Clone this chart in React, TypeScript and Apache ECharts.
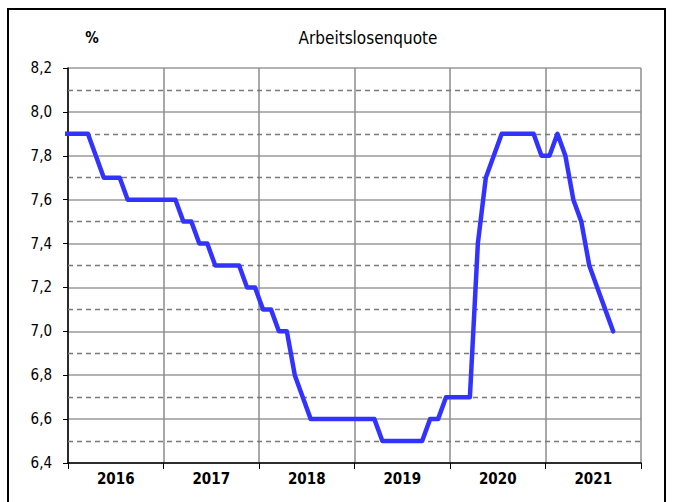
import React, { useEffect, useRef } from "react";
import * as echarts from "echarts";

// Year labels along the x axis
const years = ["2016", "2017", "2018", "2019", "2020", "2021"];

// Dashed (minor) grid levels of the y axis
const minorLevels = [6.5, 6.7, 6.9, 7.1, 7.3, 7.5, 7.7, 7.9, 8.1];

// Monthly unemployment rate (%), Dec 2015 .. Sep 2021
const rateDec2015 = [7.9];
const rate2016 = [7.9, 7.9, 7.9, 7.8, 7.7, 7.7, 7.7, 7.6, 7.6, 7.6, 7.6, 7.6];
const rate2017 = [7.6, 7.6, 7.5, 7.5, 7.4, 7.4, 7.3, 7.3, 7.3, 7.3, 7.2, 7.2];
const rate2018 = [7.1, 7.1, 7.0, 7.0, 6.8, 6.7, 6.6, 6.6, 6.6, 6.6, 6.6, 6.6];
const rate2019 = [6.6, 6.6, 6.6, 6.5, 6.5, 6.5, 6.5, 6.5, 6.5, 6.6, 6.6, 6.7];
const rate2020 = [6.7, 6.7, 6.7, 7.4, 7.7, 7.8, 7.9, 7.9, 7.9, 7.9, 7.9, 7.8];
const rate2021 = [7.8, 7.9, 7.8, 7.6, 7.5, 7.3, 7.2, 7.1, 7.0];

const rate = [
  ...rateDec2015,
  ...rate2016,
  ...rate2017,
  ...rate2018,
  ...rate2019,
  ...rate2020,
  ...rate2021,
];

const title = "Arbeitslosenquote";
const unit = "%";

const FONT = "'Liberation Sans Narrow', 'DejaVu Sans Condensed', 'Liberation Sans', Arial, sans-serif";

export default function App() {
  const ref = useRef<HTMLDivElement>(null);

  useEffect(() => {
    if (!ref.current) return;
    const chart = echarts.init(ref.current, undefined, { renderer: "svg" });
    // month index k: 0 = Dec 2015; points sit in the middle of each month
    const seriesData = rate.map((v, k) => [k - 0.5, v]);
    const option: any = {
      animation: false,
      backgroundColor: "#ffffff",
      grid: { left: 68, right: 34, top: 68, bottom: 39, containLabel: false },
      xAxis: [
        {
          type: "value",
          min: 0,
          max: 72,
          interval: 12,
          axisLine: { show: true, onZero: false, lineStyle: { color: "#000", width: 1.5 } },
          axisTick: { show: true, inside: false, length: 6, lineStyle: { color: "#000", width: 1 } },
          axisLabel: { show: false },
          splitLine: { show: true, lineStyle: { color: "#8c8c8c", width: 1.5 } },
        },
        {
          type: "category",
          data: years,
          boundaryGap: true,
          position: "bottom",
          axisLine: { show: false },
          axisTick: { show: false },
          splitLine: { show: false },
          axisLabel: {
            show: true,
            margin: 8,
            color: "#000",
            fontSize: 15,
            fontWeight: "bold",
            fontFamily: FONT,
          },
        },
      ],
      yAxis: [
        {
          type: "value",
          min: 6.4,
          max: 8.2,
          interval: 0.2,
          axisLine: { show: true, onZero: false, lineStyle: { color: "#000", width: 1.5 } },
          axisTick: { show: true, inside: false, length: 5, lineStyle: { color: "#000", width: 1 } },
          axisLabel: {
            margin: 16,
            color: "#000",
            fontSize: 15,
            fontFamily: FONT,
            formatter: (v: number) => v.toFixed(1).replace(".", ","),
          },
          splitLine: { show: true, lineStyle: { color: "#9a9a9a", width: 1.5 } },
        },
      ],
      series: [
        {
          type: "line",
          name: "minor-grid",
          xAxisIndex: 0,
          yAxisIndex: 0,
          data: [],
          symbol: "none",
          silent: true,
          z: 1,
          markLine: {
            silent: true,
            symbol: "none",
            label: { show: false },
            lineStyle: { color: "#7a7a7a", width: 1.3, type: [5, 4] },
            data: minorLevels.map((v) => ({ yAxis: v })),
          },
        },
        {
          type: "line",
          xAxisIndex: 0,
          yAxisIndex: 0,
          data: seriesData,
          symbol: "none",
          clip: true,
          lineStyle: { color: "#3333ff", width: 4.5, cap: "round", join: "round" },
          z: 5,
        },
      ],
      graphic: [
        {
          type: "rect",
          shape: { x: 8, y: 9, width: 657, height: 500 },
          style: { fill: "none", stroke: "#000", lineWidth: 2 },
          silent: true,
          z: 10,
        },
        {
          type: "text",
          x: 368,
          y: 38,
          style: {
            text: title,
            fill: "#000",
            fontSize: 17,
            fontFamily: FONT,
            textAlign: "center",
            textVerticalAlign: "middle",
          },
          z: 10,
        },
        {
          type: "text",
          x: 92,
          y: 38,
          style: {
            text: unit,
            fill: "#000",
            fontSize: 15,
            fontWeight: "bold",
            fontFamily: FONT,
            textAlign: "center",
            textVerticalAlign: "middle",
          },
          z: 10,
        },
      ],
    };
    chart.setOption(option);
    return () => chart.dispose();
  }, []);

  return (
    <div
      ref={ref}
      style={{ position: "absolute", left: 0, top: 0, width: 675, height: 502 }}
    />
  );
}
